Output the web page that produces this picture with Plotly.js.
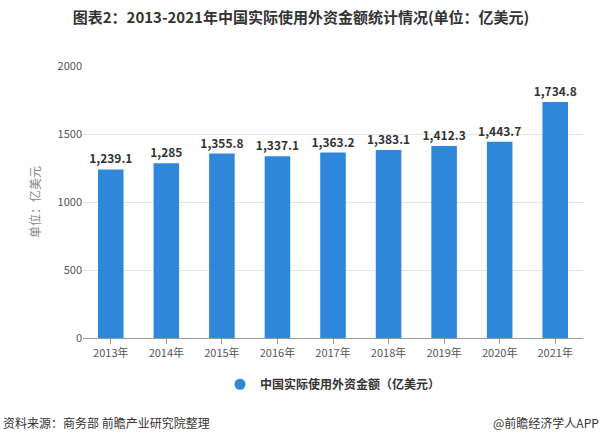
<!DOCTYPE html>
<html><head><meta charset="utf-8">
<script src="https://cdn.plot.ly/plotly-3.0.1.min.js"></script>
<style>body{margin:0;background:#fff}#c{width:602px;height:442px}</style>
</head><body><div id="c"></div>
<script>
const years = ['2013年','2014年','2015年','2016年','2017年','2018年','2019年','2020年','2021年'];
const fdi = [1239.1, 1285, 1355.8, 1337.1, 1363.2, 1383.1, 1412.3, 1443.7, 1734.8];
const seriesName = '中国实际使用外资金额（亿美元）';
const yTicks = [0, 500, 1000, 1500, 2000];

const font = '"Microsoft YaHei","Noto Sans CJK SC",sans-serif';
const blue = '#2f87d9';

const data = [
  {type:'bar', x:years, y:fdi, marker:{color:blue}, width:0.46, showlegend:false,
   texttemplate:'<b>%{y:,}</b>', textposition:'outside', cliponaxis:false, constraintext:'none',
   textfont:{family:font, size:12, color:'#333'}, hoverinfo:'x+y'},
  {type:'scatter', mode:'markers', x:[null], y:[null], name:'<b>'+seriesName+'</b>',
   marker:{color:blue, size:11, symbol:'circle'}, showlegend:true}
];

const layout = {
  width:602, height:442,
  margin:{l:83, r:19, t:66, b:104},
  paper_bgcolor:'#fff', plot_bgcolor:'#fff',
  font:{family:font, color:'#555'},
  title:{text:'<b>图表2：2013-2021年中国实际使用外资金额统计情况(单位：亿美元)</b>',
         x:0.5, xanchor:'center', y:0.96, yanchor:'middle',
         font:{family:font, size:15, color:'#333'}},
  xaxis:{type:'category', showgrid:false, showline:true, linecolor:'#999', linewidth:1,
         ticks:'outside', ticklen:5, tickcolor:'#999', tickfont:{size:11, color:'#555'}, fixedrange:true},
  yaxis:{range:[0,2000], tickvals:yTicks, ticktext:yTicks.map(String), showgrid:true, gridcolor:'#e3e3e3',
         zeroline:false, showline:false, ticks:'', ticklen:0, tickfont:{size:11, color:'#555'},
         title:{text:'单位：亿美元', standoff:14, font:{size:12, color:'#888'}}},
  showlegend:true,
  legend:{orientation:'h', x:0.5, xanchor:'center', y:-0.17, yanchor:'middle',
          font:{family:font, size:12, color:'#333'}},
  annotations:[
    {text:'资料来源：商务部 前瞻产业研究院整理', xref:'paper', yref:'paper', x:-0.165, xanchor:'left',
     y:-0.31, yanchor:'middle', showarrow:false, font:{family:font, size:12, color:'#333'}},
    {text:'@前瞻经济学人APP', xref:'paper', yref:'paper', x:1.035, xanchor:'right',
     y:-0.31, yanchor:'middle', showarrow:false, font:{family:font, size:12, color:'#333'}}
  ]
};
Plotly.newPlot('c', data, layout, {displayModeBar:false, staticPlot:true});
</script></body></html>
